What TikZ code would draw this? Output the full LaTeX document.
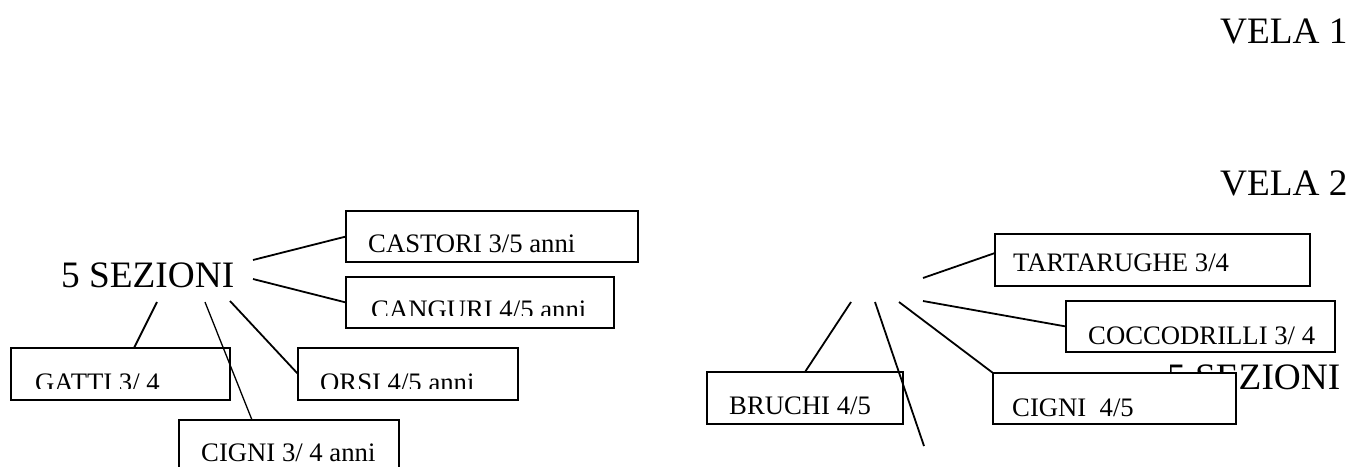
\documentclass[tikz,border=0pt]{standalone}
\usepackage{fontspec}
\setmainfont{Liberation Serif}
\usetikzlibrary{calc}
\begin{document}
\begin{tikzpicture}[x=1pt,y=-1pt,
  box/.style={draw=black, line width=1.3pt, fill=white, inner sep=0pt, outer sep=0pt, anchor=north west},
  lbl/.style={inner sep=0pt, anchor=base west, font=\fontsize{26.7}{32}\selectfont},
  big/.style={inner sep=0pt, anchor=base west, font=\fontsize{37.3}{44}\selectfont},
  conn/.style={draw=black, line width=1.8pt}]
\useasboundingbox (0,0) rectangle (1348,466);
% big titles
\node[big] (vela1) at (1220,43) {VELA 1};
\node[big] (vela2) at (1220,195) {VELA 2};
\node[big] (sezL) at (61,287) {5 SEZIONI};
\node[big] (sezR) at (1167,389) {5 SEZIONI};
% boxes left
\node[box, minimum width=292pt, minimum height=51pt] (castori) at (346,211) {};
\node[box, minimum width=268pt, minimum height=51pt] (canguri) at (346,277) {};
\node[box, minimum width=219pt, minimum height=52pt] (gatti) at (11,348) {};
\node[box, minimum width=220pt, minimum height=52pt] (orsi) at (298,348) {};
\node[box, minimum width=220pt, minimum height=52pt] (cignia) at (179,420) {};
% boxes right
\node[box, minimum width=315pt, minimum height=52pt] (tart) at (995,234) {};
\node[box, minimum width=269pt, minimum height=51pt] (cocco) at (1066,301) {};
\node[box, minimum width=196pt, minimum height=52pt] (bruchi) at (707,372) {};
\node[box, minimum width=243pt, minimum height=51pt] (cignib) at (993,373) {};
% labels
\node[lbl] (castoriT) at ($(castori.north west)+(22,41)$) {CASTORI 3/5 anni};
\begin{scope}
  \clip (canguri.north west) rectangle ($(canguri.south east)+(0,-13)$);
  \node[lbl] (canguriT) at ($(canguri.north west)+(25,41)$) {CANGURI 4/5 anni};
\end{scope}
\begin{scope}
  \clip (gatti.north west) rectangle ($(gatti.south east)+(0,-12)$);
  \node[lbl] (gattiT) at ($(gatti.north west)+(24,43)$) {GATTI 3/ 4};
\end{scope}
\begin{scope}
  \clip (orsi.north west) rectangle ($(orsi.south east)+(0,-12)$);
  \node[lbl] (orsiT) at ($(orsi.north west)+(22,43)$) {ORSI 4/5 anni};
\end{scope}
\node[lbl] (cigniaT) at ($(cignia.north west)+(22,41)$) {CIGNI 3/ 4 anni};
\node[lbl] (tartT) at ($(tart.north west)+(18,37)$) {TARTARUGHE 3/4};
\node[lbl] (coccoT) at ($(cocco.north west)+(22,43)$) {COCCODRILLI 3/ 4};
\node[lbl] (bruchiT) at ($(bruchi.north west)+(22,42)$) {BRUCHI 4/5};
\node[lbl] (cignibT) at ($(cignib.north west)+(19,43)$) {CIGNI~~4/5};
% free connector ends
\coordinate (lA) at (253,260);
\coordinate (lB) at (253,279);
\coordinate (lC) at (157,302);
\coordinate (lD) at (205,302);
\coordinate (lE) at (230,301);
\coordinate (rA) at (923,278);
\coordinate (rB) at (923,301);
\coordinate (rC) at (851,302);
\coordinate (rD) at (875,302);
\coordinate (rDend) at (924,446);
\coordinate (rE) at (899,302);
% connectors left
\draw[conn] (lA) -- (castori.west);
\draw[conn] (lB) -- (canguri.west);
\draw[conn] (lC) -- (134,0 |- gatti.north);
\draw[conn, line width=1.3pt] (lD) -- (252,0 |- cignia.north);
\draw[conn] (lE) -- (orsi.west);
% connectors right
\draw[conn] (rA) -- ($(tart.north west)+(0,19)$);
\draw[conn] (rB) -- (cocco.west);
\draw[conn] (rC) -- (805,0 |- bruchi.north);
\draw[conn] (rD) -- (rDend);
\draw[conn] (rE) -- (cignib.north west);
\end{tikzpicture}
\end{document}
